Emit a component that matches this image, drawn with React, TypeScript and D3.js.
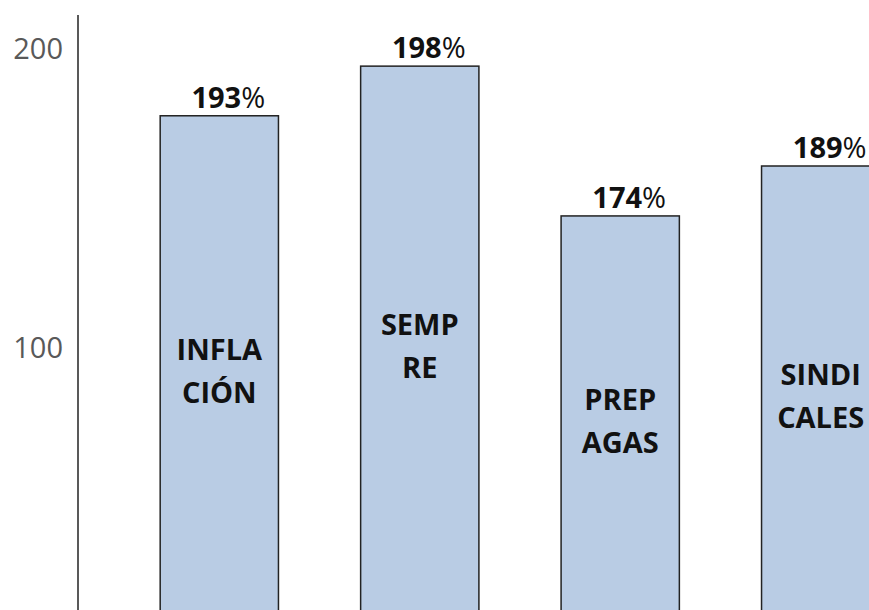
import React from "react";
import * as d3 from "d3";

// bar heights as drawn against the axis, and the labels printed above them
const categories = ["INFLACIÓN", "SEMPRE", "PREPAGAS", "SINDICALES"];
const nameLines = [["INFLA", "CIÓN"], ["SEMP", "RE"], ["PREP", "AGAS"], ["SINDI", "CALES"]];
const barValues = [177, 193.6, 143.5, 160.2];
const valueLabels = ["193", "198", "174", "189"];
const yTicks = [100, 200];

const W = 869;
const H = 610;
const FONT = "'Open Sans', sans-serif";

const App = () => {
  const x = d3
    .scaleBand<string>()
    .domain(categories)
    .range([78, 962])
    .paddingInner(0.41)
    .paddingOuter(0.41);
  const y = d3.scaleLinear().domain([0, 200]).range([645, 47]);
  const labelFloor = y(6.7);

  return (
    <svg
      width={W}
      height={H}
      style={{position: "absolute", left: 0, top: 0, display: "block", background: "#fff"}}
      fontFamily={FONT}
    >
      {/* y axis */}
      <line x1={78} x2={78} y1={15} y2={y(0)} stroke="#222" strokeWidth={1.5}/>
      {yTicks.map(t => (
        <text
          key={t}
          x={63}
          y={y(t)}
          textAnchor="end"
          dominantBaseline="central"
          fontSize={29}
          fill="#595959"
        >
          {t}
        </text>
      ))}

      {categories.map((c, i) => {
        const bx = x(c) as number;
        const bw = x.bandwidth();
        const top = y(barValues[i]);
        const cx = bx + bw / 2;
        const mid = (top + labelFloor) / 2;
        return (
          <g key={c}>
            <rect
              x={bx}
              y={top}
              width={bw}
              height={y(0) - top}
              fill="#b9cce4"
              stroke="#222"
              strokeWidth={1.5}
            />
            <text x={cx + 9} y={top - 8} textAnchor="middle" fontSize={29} fill="#111">
              <tspan fontWeight="bold">{valueLabels[i]}</tspan>
              <tspan>%</tspan>
            </text>
            {nameLines[i].map((ln, j) => (
              <text
                key={j}
                x={cx}
                y={mid - 10.5 + j * 43}
                textAnchor="middle"
                fontSize={29}
                fontWeight="bold"
                fill="#111"
              >
                {ln}
              </text>
            ))}
          </g>
        );
      })}
    </svg>
  );
};

export default App;
